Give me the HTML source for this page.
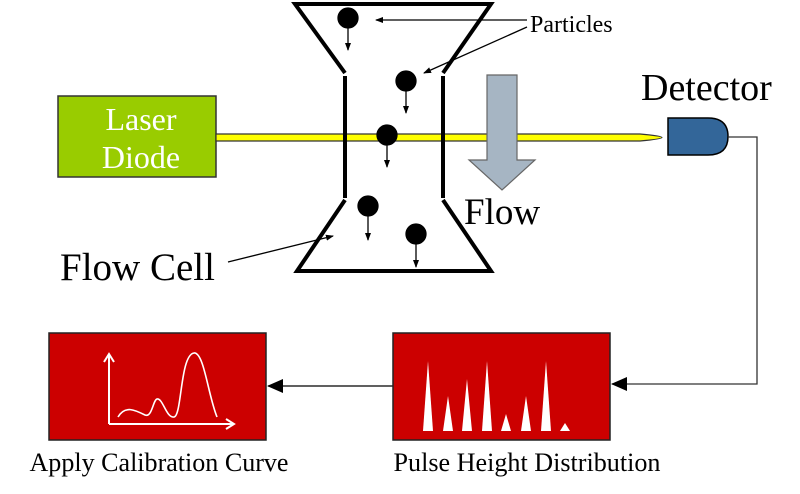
<!DOCTYPE html>
<html><head><style>
html,body{margin:0;padding:0;background:#fff;}
svg{display:block;font-family:"Liberation Serif",serif;}
</style></head><body>
<svg width="800" height="494" viewBox="0 0 800 494" xmlns="http://www.w3.org/2000/svg">
<defs>
<marker id="a" markerWidth="8" markerHeight="8" refX="7" refY="4" orient="auto" markerUnits="userSpaceOnUse"><path d="M0,1 L8,4 L0,7 Z" fill="#000"/></marker>
<marker id="b" markerWidth="16" markerHeight="14" refX="15" refY="7" orient="auto" markerUnits="userSpaceOnUse"><path d="M0,0 L16,7 L0,14 Z" fill="#000"/></marker>
</defs>
<rect x="58" y="96" width="158" height="81" fill="#99cc00" stroke="#333" stroke-width="1.5"/>
<text x="141" y="130" font-size="32" fill="#fff" text-anchor="middle">Laser</text>
<text x="141" y="168" font-size="32" fill="#fff" text-anchor="middle">Diode</text>
<path d="M216,134 L640,134 Q662,136 662,137.5 Q662,139 640,141 L216,141 Z" fill="#ffff00" stroke="#333" stroke-width="1.2"/>
<path d="M345,73 L295,4 L491,4 L443,73" fill="none" stroke="#000" stroke-width="4"/>
<path d="M345,200 L297,271 L491,271 L443,200" fill="none" stroke="#000" stroke-width="4"/>
<line x1="345" y1="76" x2="345" y2="198" stroke="#000" stroke-width="4"/>
<line x1="443" y1="76" x2="443" y2="198" stroke="#000" stroke-width="4"/>
<g fill="#000" stroke="#000" stroke-width="1.3">
<circle cx="348" cy="18" r="10"/><line x1="348" y1="28" x2="348" y2="50" marker-end="url(#a)"/>
<circle cx="406" cy="81" r="10"/><line x1="406" y1="91" x2="406" y2="113" marker-end="url(#a)"/>
<circle cx="387" cy="135" r="10"/><line x1="387" y1="145" x2="387" y2="167" marker-end="url(#a)"/>
<circle cx="368" cy="206" r="10"/><line x1="368" y1="216" x2="368" y2="240" marker-end="url(#a)"/>
<circle cx="416" cy="234" r="10"/><line x1="416" y1="244" x2="416" y2="267" marker-end="url(#a)"/>
</g>
<line x1="527" y1="20" x2="376" y2="20" stroke="#000" stroke-width="1.3" marker-end="url(#a)"/>
<line x1="527" y1="27" x2="424" y2="73" stroke="#000" stroke-width="1.3" marker-end="url(#a)"/>
<text x="530" y="32" font-size="24">Particles</text>
<path d="M487,75 L517,75 L517,160 L535,160 L502,190 L469,160 L487,160 Z" fill="#a6b5c3" stroke="#666" stroke-width="1.2"/>
<text x="464" y="224" font-size="37">Flow</text>
<text x="60" y="280" font-size="39">Flow Cell</text>
<line x1="228" y1="262" x2="333" y2="236" stroke="#000" stroke-width="1.3" marker-end="url(#a)"/>
<text x="641" y="100" font-size="38">Detector</text>
<path d="M668,118 L708,118 Q728,118 728,136.5 Q728,155 708,155 L668,155 Z" fill="#336699" stroke="#000" stroke-width="1.5"/>
<polyline points="728,137 757,137 757,384 612,384" fill="none" stroke="#333" stroke-width="1.3" marker-end="url(#b)"/>
<line x1="393" y1="386" x2="268" y2="386" stroke="#000" stroke-width="1.3" marker-end="url(#b)"/>
<rect x="393" y="333" width="217" height="107" fill="#cc0000" stroke="#222" stroke-width="1.5"/>
<g fill="#fff">
<path d="M423,431 L428,361 L433,431Z"/>
<path d="M443,431 L448,396 L453,431Z"/>
<path d="M462,431 L467,379 L472,431Z"/>
<path d="M482,431 L487,361 L492,431Z"/>
<path d="M501,431 L506,414 L511,431Z"/>
<path d="M521,431 L526,396 L531,431Z"/>
<path d="M541,431 L546,361 L551,431Z"/>
<path d="M560,431 L565,423 L570,431Z"/>
</g>
<text x="527" y="471" font-size="26" text-anchor="middle" textLength="267" lengthAdjust="spacingAndGlyphs">Pulse Height Distribution</text>
<rect x="49" y="333" width="217" height="107" fill="#cc0000" stroke="#222" stroke-width="1.5"/>
<g fill="none" stroke="#fff" stroke-width="2">
<polyline points="109,424 109,355"/><polyline points="104,362 109,354 114,362"/>
<polyline points="109,424 234,424"/><polyline points="226,419 234,424 226,429"/>
<path d="M118,417 C125,405 135,410 145,415 C152,418 153,400 157,399 C163,398 166,418 174,417 C182,416 180,355 194,353 C204,352 208,395 217,417" stroke-width="1.6"/>
</g>
<text x="159" y="471" font-size="26" text-anchor="middle" textLength="259" lengthAdjust="spacingAndGlyphs">Apply Calibration Curve</text>
</svg>
</body></html>
